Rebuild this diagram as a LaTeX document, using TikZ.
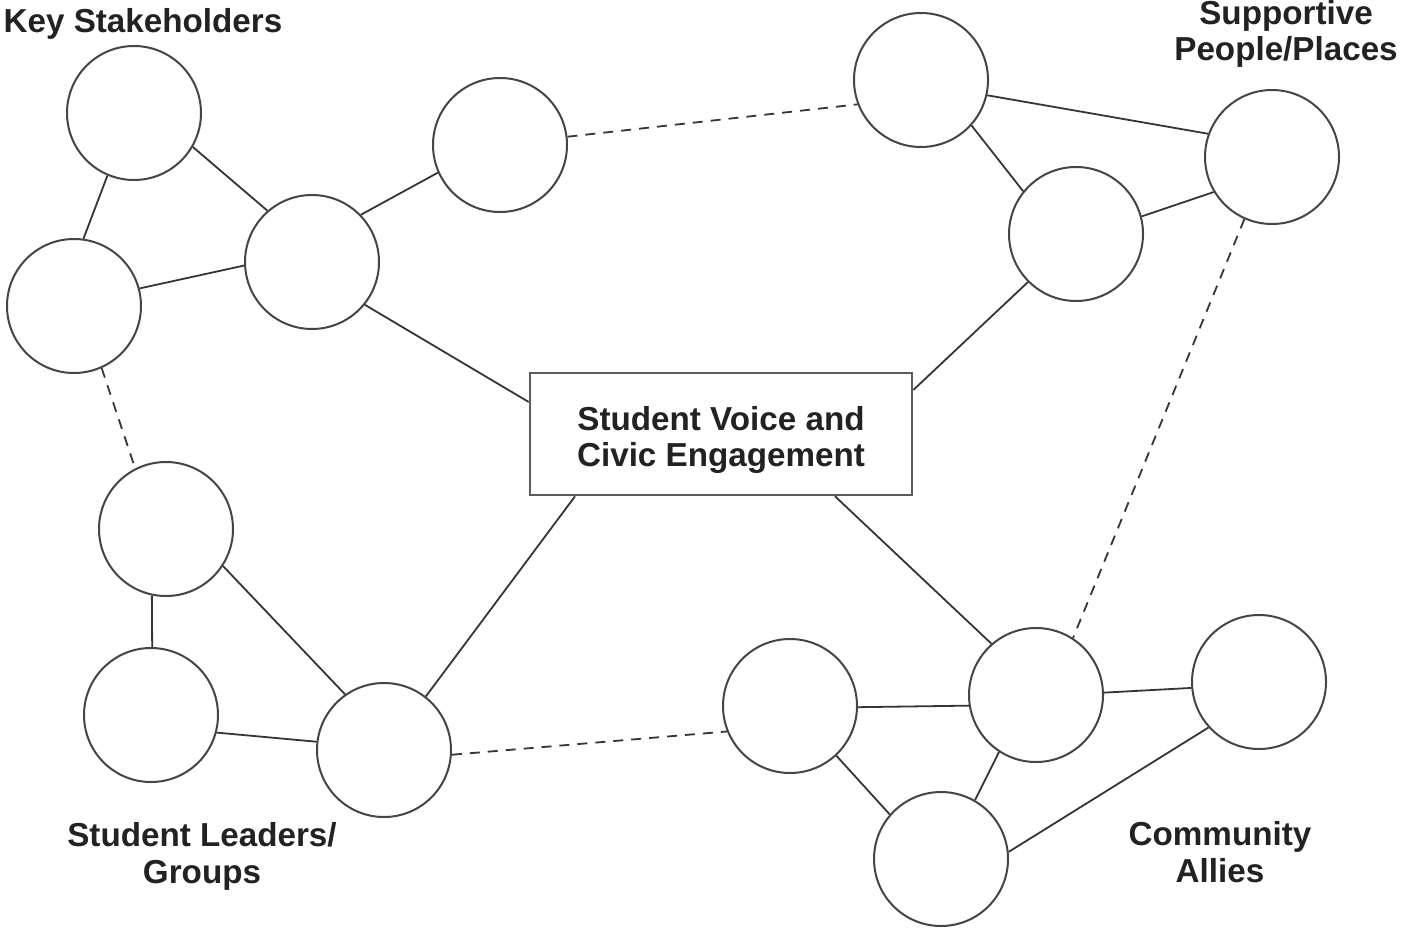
\documentclass[tikz,border=0pt]{standalone}
\usepackage{fontspec}
\setmainfont{Liberation Sans}
\definecolor{ringgray}{HTML}{454545}
\definecolor{wiregray}{HTML}{353535}
\definecolor{framegray}{HTML}{5C5C5C}
\definecolor{inkgray}{HTML}{222222}
\begin{document}
\begin{tikzpicture}[x=0.5pt,y=-0.5pt,
  hub/.style={circle, draw=ringgray, line width=1pt, minimum size=67pt, inner sep=0pt, fill=white},
  link/.style={draw=wiregray, line width=0.9pt},
  weaklink/.style={link, dash pattern=on 5pt off 4pt},
  grouplabel/.style={font=\bfseries\fontsize{16.6}{18.4}\selectfont, text=inkgray, align=center, inner sep=0pt},
  core/.style={draw=framegray, line width=1.3pt, minimum width=191pt, minimum height=61pt,
    inner sep=0pt, fill=white, align=center, text=inkgray,
    font=\bfseries\fontsize{16.6}{18}\selectfont}
]
\useasboundingbox[fill=white] (0,0) rectangle (1401,931);

% central theme
\node[core] (core) at (721,434) {\rule{0pt}{18pt}Student Voice and\\Civic Engagement};

% key stakeholders
\node[hub] (A) at (134,113) {};
\node[hub] (B) at (74,306) {};
\node[hub] (C) at (312,262) {};
\node[hub] (D) at (500,145) {};

% supportive people / places
\node[hub] (E) at (921,80) {};
\node[hub] (F) at (1272,157) {};
\node[hub] (G) at (1076,234) {};

% student leaders / groups
\node[hub] (H) at (166,529) {};
\node[hub] (I) at (151,715) {};
\node[hub] (J) at (384,750) {};

% community allies
\node[hub] (K) at (790,706) {};
\node[hub] (L) at (1036,695) {};
\node[hub] (M) at (1259,682) {};
\node[hub] (N) at (941,859) {};

% group titles
\node[grouplabel, anchor=base] (kslabel) at (143,33) {Key Stakeholders};
\node[grouplabel, anchor=base] (splabel) at (1286,61) {Supportive\\People/Places};
\node[grouplabel, anchor=base] (sllabel) at (202,883) {Student Leaders/\\Groups};
\node[grouplabel, anchor=base] (calabel) at (1220,882) {Community\\Allies};

% ties inside the clusters
\draw[link] (A.247) -- (B.82);
\draw[link] (A.-30) -- (C.131);
\draw[link] (B.15) -- (C.183);
\draw[link] (C.44) -- (D.204);

\draw[link] (E.-13) -- (F.160);
\draw[link] (E.-42) -- (G.141);
\draw[link] (G.15) -- (F.211);

\draw[link] (H.258) -- (I.89);
\draw[link] (H.-33) -- (J.125);
\draw[link] (I.-15) -- (J.173);

\draw[link] (K.-1) -- (L.189);
\draw[link] (K.-47) -- (N.139);
\draw[link] (L.237) -- (N.60);
\draw[link] (L.2) -- (M.185);
\draw[link] (M.222) -- (N.6);

% ties to the centre
\draw[link] (C.-39) -- ([yshift=16pt]core.west);
\draw[link] (G.225) -- ([yshift=22pt]core.east);
\draw[link] (J.52) -- ([xshift=-73pt]core.south);
\draw[link] ([xshift=57pt]core.south) -- (L.131);

% weaker ties between clusters
\draw[weaklink] (D.7) -- (E.201);
\draw[weaklink] (F.246) -- (L.57);
\draw[weaklink] (B.294) -- (H.117);
\draw[weaklink] (J.-4) -- (K.202);
\end{tikzpicture}
\end{document}
